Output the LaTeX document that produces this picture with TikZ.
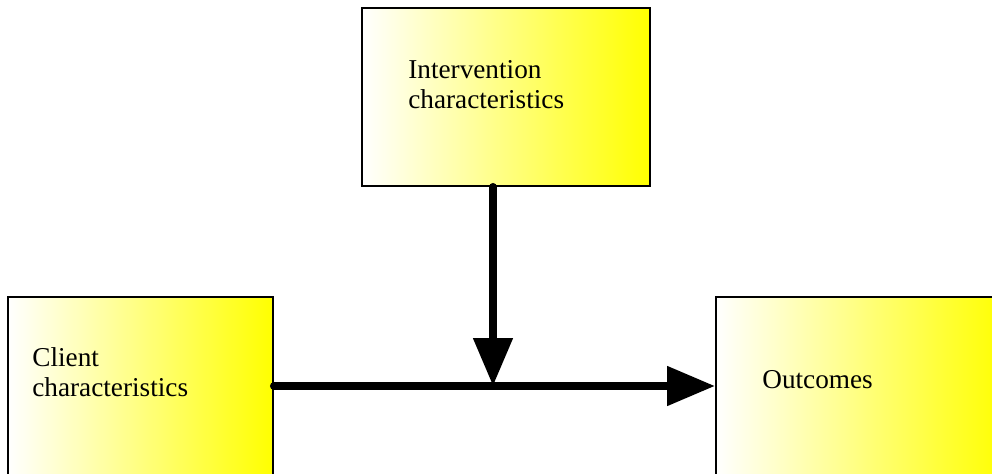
\documentclass[tikz,border=0pt]{standalone}
\usepackage{fontspec}
\setmainfont{Liberation Serif}
\usetikzlibrary{arrows.meta}

\begin{document}
\begin{tikzpicture}[
    box/.style={draw,line width=1.1pt,left color=white,right color=yellow,
      minimum height=3.56cm,inner sep=0pt},
    txt/.style={align=left,anchor=north west,inner sep=0pt,
      font=\fontsize{15.5}{17}\selectfont},
    flow/.style={line width=0.16cm,line cap=round,
      -{Triangle[length=0.96cm,width=0.76cm]}}]
      \useasboundingbox (0,0) rectangle (19.84,9.46);
      \clip (0,0) rectangle (19.84,9.46);
      \draw
        (10.12,7.52) node[box,minimum width=5.76cm] (interv) {}
        (2.81,1.74) node[box,minimum width=5.3cm] (client) {}
        (17.2,1.74) node[box,minimum width=5.76cm] (outcome) {};
      \draw
        (8.16,8.26) node[txt] (intervtext) {Intervention\\characteristics}
        (0.64,2.52) node[txt] (clienttext) {Client\\characteristics}
        (15.24,2.06) node[txt] (outcometext) {Outcomes};
      \coordinate (meet) at (9.86,1.74);
      \draw[flow] (client.east) -- (outcome.west);
      \draw[flow] (interv.south -| meet) -- (meet);
    \end{tikzpicture}
\end{document}
